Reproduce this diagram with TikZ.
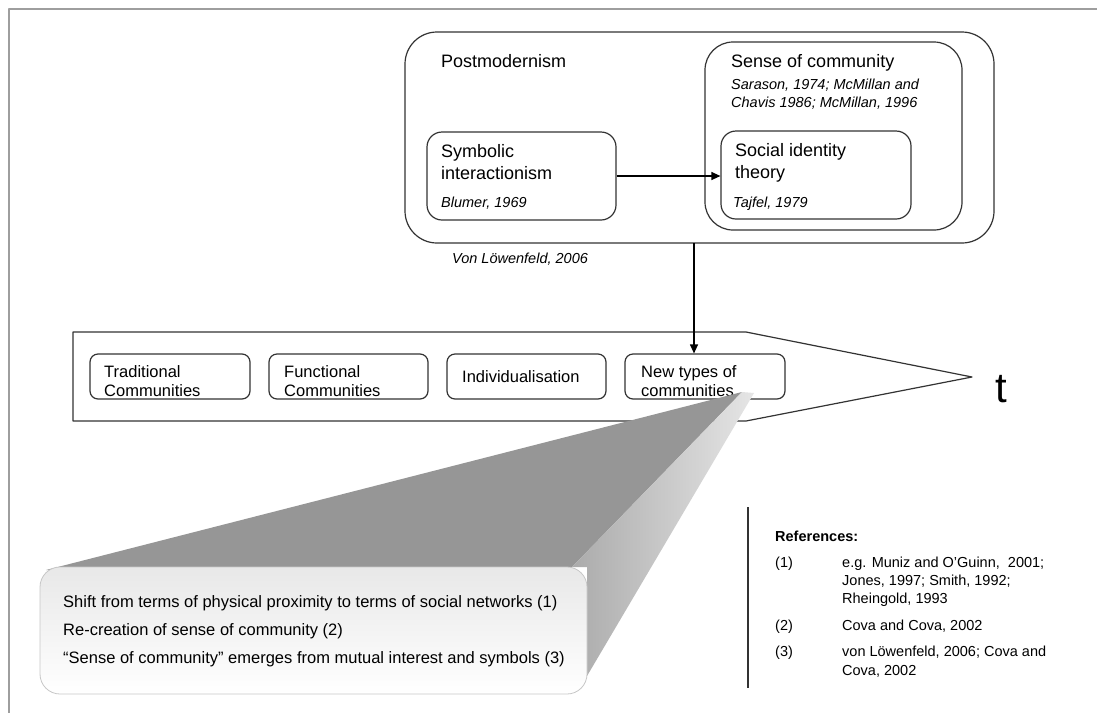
\documentclass[tikz,border=0pt]{standalone}
\usepackage{fontspec}
\setmainfont{Liberation Sans}
\usetikzlibrary{arrows.meta}
\begin{document}
\begin{tikzpicture}[x=1pt,y=-1pt,line join=round,
  roundbox/.style={draw=black!80,line width=1.2pt,fill=white,inner sep=0pt,rounded corners=#1},
  main/.style={anchor=base west,inner sep=0pt,font=\fontsize{18}{22}\selectfont},
  cite/.style={anchor=base west,inner sep=0pt,font=\fontsize{14.5}{18}\selectfont\itshape},
  small/.style={anchor=base west,inner sep=0pt,font=\fontsize{16.5}{20}\selectfont},
  note/.style={anchor=base west,inner sep=0pt,font=\fontsize{16.5}{20}\selectfont},
  refs/.style={anchor=base west,inner sep=0pt,font=\fontsize{14.5}{18}\selectfont},
  arr/.style={line width=1.2pt,-{Triangle[length=9pt,width=8pt]}}]
\useasboundingbox (0,0) rectangle (1097,713);
\fill[white] (0,0) rectangle (1097,713);

% page frame
\draw[black!38,line width=2pt] (1097,9) -- (9,9) -- (9,713);

% theory block
\node[roundbox=32,minimum width=589,minimum height=211] (post) at (699.5,137.5) {};
\node[roundbox=28,minimum width=257,minimum height=188] (soc) at (833.5,136) {};
\node[roundbox=15,minimum width=189,minimum height=88] (symb) at (521.5,176) {};
\node[roundbox=15,minimum width=190,minimum height=88] (sit) at (816,175) {};

\node[main] (tPost) at (441,67) {Postmodernism};
\node[main] (tSoc) at (731,67) {Sense of community};
\node[cite] (tSar1) at (731,89.5) {Sarason, 1974; McMillan and};
\node[cite] (tSar2) at (731,107) {Chavis 1986; McMillan, 1996};
\node[main] (tSym1) at (441,157) {Symbolic};
\node[main] (tSym2) at (441,179) {interactionism};
\node[cite] (tBlu) at (441,207) {Blumer, 1969};
\node[main] (tSit1) at (735,156) {Social identity};
\node[main] (tSit2) at (735,178) {theory};
\node[cite] (tTaj) at (733,207) {Tajfel, 1979};
\node[cite] (tVon) at (452,263) {Von Löwenfeld, 2006};

\draw[arr] (symb.east) -- (symb.east -| sit.west);

% time line
\draw[draw=black!80,line width=1.2pt,fill=white]
  (73,332) -- (746,332) -- (972,377) -- (746,421) -- (73,421) -- cycle;
\node[roundbox=8,minimum width=160,minimum height=45] (trad) at (170,376.5) {};
\node[roundbox=8,minimum width=159,minimum height=45] (func) at (348.5,376.5) {};
\node[roundbox=8,minimum width=159,minimum height=45] (indiv) at (526.5,376.5) {};
\node[roundbox=8,minimum width=160,minimum height=45] (newt) at (705,376.5) {};

\node[small] (tTr1) at (104,377) {Traditional};
\node[small] (tTr2) at (104,396) {Communities};
\node[small] (tFu1) at (284,377) {Functional};
\node[small] (tFu2) at (284,396) {Communities};
\node[small] (tInd) at (462,382) {Individualisation};
\node[small] (tNe1) at (641,377) {New types of};
\node[small] (tNe2) at (641,396) {communities};
\node[anchor=base west,inner sep=0pt,font=\fontsize{42}{46}\selectfont] (tT) at (995,402) {t};

\coordinate (drop) at (694,243);
\draw[arr] (drop) -- (drop |- newt.north);

% zoom-out callout
\fill[black!41] (742,392) -- (46,570) -- (572,567) -- cycle;
\shade[left color=black!33,right color=black!10]
  (742,392) -- (754,393) -- (587,676) -- (587,567) -- (572,567) -- cycle;
\node[draw=black!22,line width=0.8pt,rounded corners=20,inner sep=0pt,
  top color=black!9,bottom color=white,minimum width=547,minimum height=127]
  (detail) at (313.5,630.5) {};
\node[note] (n1) at (63,607) {Shift from terms of physical proximity to terms of social networks (1)};
\node[note] (n2) at (63,635) {Re-creation of sense of community (2)};
\node[note] (n3) at (63,663) {“Sense of community” emerges from mutual interest and symbols (3)};

% references
\coordinate (rtop) at (748,507);
\coordinate (rbot) at (748,688);
\draw[black!80,line width=1.2pt] (rtop) -- (rbot);
\node[refs,font=\fontsize{14.5}{18}\selectfont\bfseries] (rh) at (775,541) {References:};
\node[refs] (r1) at (775,567) {(1)};
\node[refs] (r1a) at (842,567) {e.g. Muniz and O’Guinn,\ \ 2001;};
\node[refs] (r1b) at (842,585) {Jones, 1997; Smith, 1992;};
\node[refs] (r1c) at (842,603) {Rheingold, 1993};
\node[refs] (r2) at (775,630) {(2)};
\node[refs] (r2a) at (842,630) {Cova and Cova, 2002};
\node[refs] (r3) at (775,656) {(3)};
\node[refs] (r3a) at (842,656) {von Löwenfeld, 2006; Cova and};
\node[refs] (r3b) at (842,675) {Cova, 2002};
\end{tikzpicture}
\end{document}
